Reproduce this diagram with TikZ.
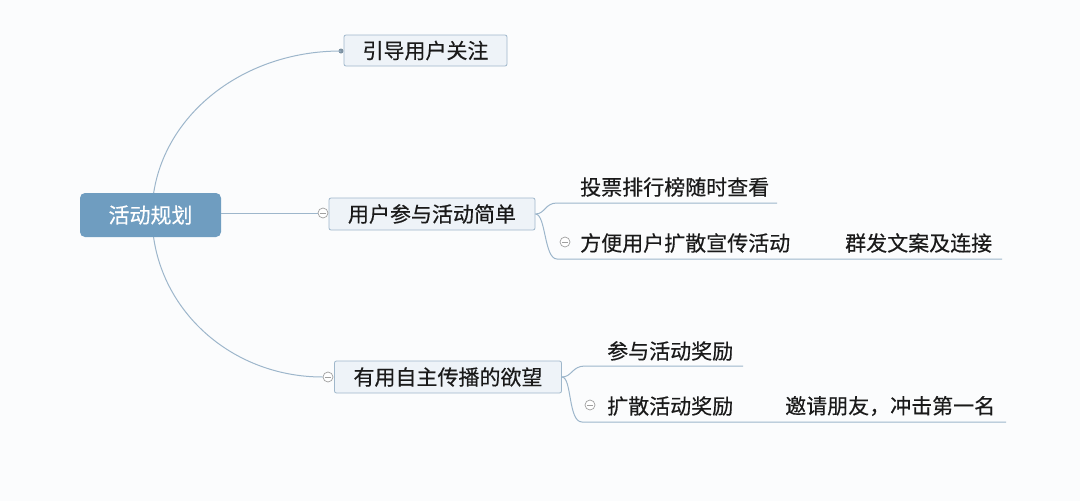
\documentclass[tikz,border=0pt]{standalone}
\usepackage{fontspec}
\setmainfont{Noto Sans CJK SC}[FakeBold=0.4]
\definecolor{bgc}{HTML}{FBFCFD}
\definecolor{rootc}{HTML}{6F9DC0}
\definecolor{boxfill}{HTML}{EEF3F8}
\definecolor{boxline}{HTML}{9FB7CB}
\definecolor{linec}{HTML}{9DB6CB}
\definecolor{txt}{HTML}{1A1A1A}
\definecolor{foldc}{HTML}{A0A0A0}
\tikzset{
  rootbox/.style={draw=none, fill=rootc, rounded corners=5pt, minimum width=141pt, minimum height=44pt, inner sep=0pt, text=white, font=\fontsize{21}{24}\selectfont},
  topicbox/.style={draw=boxline, line width=0.8pt, fill=boxfill, rounded corners=2pt, minimum height=31pt, inner sep=0pt, text=txt, font=\fontsize{21}{24}\selectfont},
  subtext/.style={anchor=west, inner sep=0pt, text=txt, font=\fontsize{21}{24}\selectfont},
  conn/.style={draw=linec, line width=1pt},
  fold/.style={circle, draw=foldc, fill=white, line width=0.7pt, minimum size=10pt, inner sep=0pt,
    path picture={\draw[foldc, line width=0.7pt] ([xshift=-3pt]path picture bounding box.center) -- ([xshift=3pt]path picture bounding box.center);}},
  enddot/.style={circle, fill=linec!80!black, minimum size=5pt, inner sep=0pt}
}
\begin{document}
\begin{tikzpicture}[x=1pt, y=-1pt]
\fill[bgc] (0,0) rectangle (1080,501);
\useasboundingbox (0,0) rectangle (1080,501);

% curves behind root
\coordinate (rc) at (152,215);
\node[enddot] (d1) at (341,51) {};
\node[fold] (f3) at (328,377) {};
\draw[conn] (rc) .. controls (152,124) and (236,51) .. (d1.center);
\draw[conn] (rc) .. controls (152,305) and (228,377) .. (f3.west);

\node[rootbox] (root) at (150.5,215) {活动规划};

\node[topicbox, minimum width=163pt] (t1) at (425.5,50.5) {引导用户关注};
\node[topicbox, minimum width=206pt, minimum height=32pt] (t2) at (432,214) {用户参与活动简单};
\node[topicbox, minimum width=227pt, minimum height=32pt] (t3) at (448,377) {有用自主传播的欲望};

\node[fold] (f2) at (323,213) {};
\draw[conn] (root.east |- f2) -- (f2.west);

% children of t2
\node[subtext] (a1) at (580,187) {投票排行榜随时查看};
\node[subtext] (a2) at (580,243) {方便用户扩散宣传活动};
\node[subtext] (a3) at (845,243) {群发文案及连接};
\node[fold] (fa2) at (565,242) {};
\coordinate (u1s) at (557,203);
\coordinate (u1e) at (777,203);
\coordinate (u2s) at (557,259);
\coordinate (u2e) at (1002,259);
\draw[conn] (t2.east) .. controls (545,214) and (545,203) .. (u1s) -- (u1e);
\draw[conn] (t2.east) .. controls (546,214) and (544,259) .. (u2s) -- (u2e);

% children of t3
\node[subtext] (b1) at (607,351) {参与活动奖励};
\node[subtext] (b2) at (607,406) {扩散活动奖励};
\node[subtext] (b3) at (785,406) {邀请朋友，冲击第一名};
\node[fold] (fb2) at (590,405) {};
\coordinate (v1s) at (585,366);
\coordinate (v1e) at (743,366);
\coordinate (v2s) at (582,422);
\coordinate (v2e) at (1006,422);
\draw[conn] (t3.east) .. controls (572,377) and (572,366) .. (v1s) -- (v1e);
\draw[conn] (t3.east) .. controls (572,377) and (568,422) .. (v2s) -- (v2e);
\end{tikzpicture}
\end{document}
